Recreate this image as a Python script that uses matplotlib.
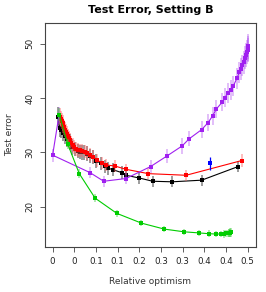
import numpy as np
import matplotlib
matplotlib.use("Agg")
import matplotlib.pyplot as plt

# x in tick units (ticks every 0.05), labels as printed on the original axis
tick_pos = [0, 0.05, 0.10, 0.15, 0.20, 0.25, 0.30, 0.35, 0.40, 0.45]
tick_lab = ["0", "0", "0.1", "0.1", "0.2", "0.3", "0.3", "0.4", "0.4", "0.5"]
y_ticks = [20, 30, 40, 50]

black_x = [0.013, 0.016, 0.019, 0.024, 0.029, 0.034, 0.039, 0.045, 0.052, 0.058, 0.063, 0.068,
           0.073, 0.080, 0.086, 0.094, 0.100, 0.111, 0.120, 0.128, 0.140, 0.159, 0.169, 0.200,
           0.231, 0.276, 0.344, 0.428]
black_y = [36.6, 34.5, 34.2, 33.6, 33.0, 32.4, 31.9, 31.0, 30.6, 30.3, 30.1, 30.0,
           30.0, 29.8, 29.4, 29.1, 28.5, 28.0, 27.5, 27.1, 26.8, 26.3, 25.8, 25.3,
           24.7, 24.6, 24.9, 27.4]
black_e = [1.8, 1.6, 1.5, 1.5, 1.5, 1.4, 1.4, 1.4, 1.3, 1.3, 1.3, 1.3,
           1.3, 1.3, 1.3, 1.3, 1.3, 1.2, 1.2, 1.2, 1.2, 1.2, 1.1, 1.1,
           1.0, 1.0, 1.0, 1.0]

red_x = [0.017, 0.019, 0.021, 0.023, 0.025, 0.027, 0.029, 0.031, 0.033, 0.035, 0.037, 0.040,
         0.043, 0.046, 0.050, 0.054, 0.058, 0.063, 0.068, 0.074, 0.080, 0.086, 0.094, 0.103,
         0.113, 0.123, 0.144, 0.169, 0.221, 0.308, 0.436]
red_y = [36.6, 36.2, 35.8, 35.4, 35.0, 34.6, 34.2, 33.8, 33.4, 33.0, 32.6, 32.2,
         31.8, 31.4, 31.0, 30.7, 30.5, 30.4, 30.3, 30.1, 29.9, 29.6, 29.2, 28.6,
         28.1, 27.7, 27.5, 26.9, 26.1, 25.8, 28.5]
red_e = [1.5, 1.5, 1.5, 1.5, 1.4, 1.4, 1.4, 1.4, 1.4, 1.4, 1.3, 1.3,
         1.3, 1.3, 1.3, 1.3, 1.3, 1.2, 1.2, 1.2, 1.2, 1.2, 1.2, 1.2,
         1.1, 1.1, 1.1, 1.0, 1.0, 1.0, 1.2]

purple_x = [0.0146, 0.0, 0.086, 0.118, 0.169, 0.226, 0.263, 0.299, 0.315, 0.344, 0.359, 0.369,
            0.378, 0.392, 0.398, 0.404, 0.411, 0.417, 0.425, 0.431, 0.435, 0.438, 0.441, 0.444,
            0.446, 0.448, 0.450, 0.451, 0.452]
purple_y = [36.8, 29.5, 26.3, 24.7, 25.2, 27.4, 29.3, 31.2, 32.5, 34.2, 35.5, 36.7,
            38.0, 39.3, 40.1, 40.9, 41.5, 42.2, 43.6, 44.7, 45.3, 46.0, 46.6, 47.4,
            47.9, 48.4, 48.8, 49.2, 49.5]
purple_e = [1.5, 1.2, 1.0, 1.0, 1.0, 1.2, 1.3, 1.4, 1.4, 1.5, 1.5, 1.6,
            1.6, 1.7, 1.7, 1.8, 1.8, 1.9, 1.9, 2.0, 2.0, 2.0, 2.1, 2.1,
            2.2, 2.2, 2.2, 2.3, 2.3]

green_x = [0.0154, 0.035, 0.0615, 0.098, 0.148, 0.205, 0.258, 0.304, 0.338, 0.362, 0.376,
           0.388, 0.396, 0.401, 0.404, 0.406, 0.408, 0.409, 0.410, 0.411]
green_y = [36.9, 31.5, 26.1, 21.6, 18.8, 17.0, 15.9, 15.4, 15.2, 15.05, 15.0,
           15.0, 15.05, 15.1, 15.1, 15.15, 15.2, 15.2, 15.25, 15.3]
green_e = [1.2, 0.9, 0.8, 0.8, 0.6, 0.6, 0.6, 0.6, 0.6, 0.6, 0.6,
           0.6, 0.7, 0.7, 0.7, 0.7, 0.8, 0.8, 0.8, 0.8]

blue_x = [0.363]
blue_y = [28.0]
blue_e = [1.2]

series = [
    (black_x, black_y, black_e, "black", "#707070", 0.75),
    (red_x, red_y, red_e, "#FF0000", "#FF6060", 0.45),
    (purple_x, purple_y, purple_e, "#A020F0", "#B050F0", 0.4),
    (green_x, green_y, green_e, "#00CD00", "#40D040", 0.45),
]

fig = plt.figure(figsize=(2.66, 2.92), dpi=100)
ax = fig.add_axes([0.169, 0.155, 0.792, 0.767])

for x, y, e, col, ecol, a in series:
    ax.vlines(x, np.array(y) - np.array(e), np.array(y) + np.array(e), color=ecol, alpha=a, lw=1.3)
    ax.plot(x, y, color=col, lw=0.8, marker="s", ms=2.8, mew=0)

ax.vlines(blue_x, np.array(blue_y) - np.array(blue_e), np.array(blue_y) + np.array(blue_e), color="#0000FF", lw=0.9)
ax.plot(blue_x, blue_y, "s", color="#0000FF", ms=2.8, mew=0)

ax.set_xlim(-0.0177, 0.4685)
ax.set_ylim(12.66, 53.84)
ax.set_xticks(tick_pos)
ax.set_xticklabels(tick_lab, fontsize=6.3, color="#222222")
ax.set_yticks(y_ticks)
ax.set_yticklabels([str(v) for v in y_ticks], fontsize=6.3, rotation=90, va="center", color="#222222")
ax.tick_params(length=3.5, width=0.6, color="#444444", pad=4)
for s in ax.spines.values():
    s.set_color("#444444")
    s.set_linewidth(0.8)

ax.set_xlabel("Relative optimism", fontsize=6.5, color="#333333", labelpad=8)
ax.set_ylabel("Test error", fontsize=6.5, color="#333333", labelpad=8)
ax.set_title("Test Error, Setting B", fontsize=8, fontweight="bold", pad=7)

fig.savefig("out.png", dpi=100)
